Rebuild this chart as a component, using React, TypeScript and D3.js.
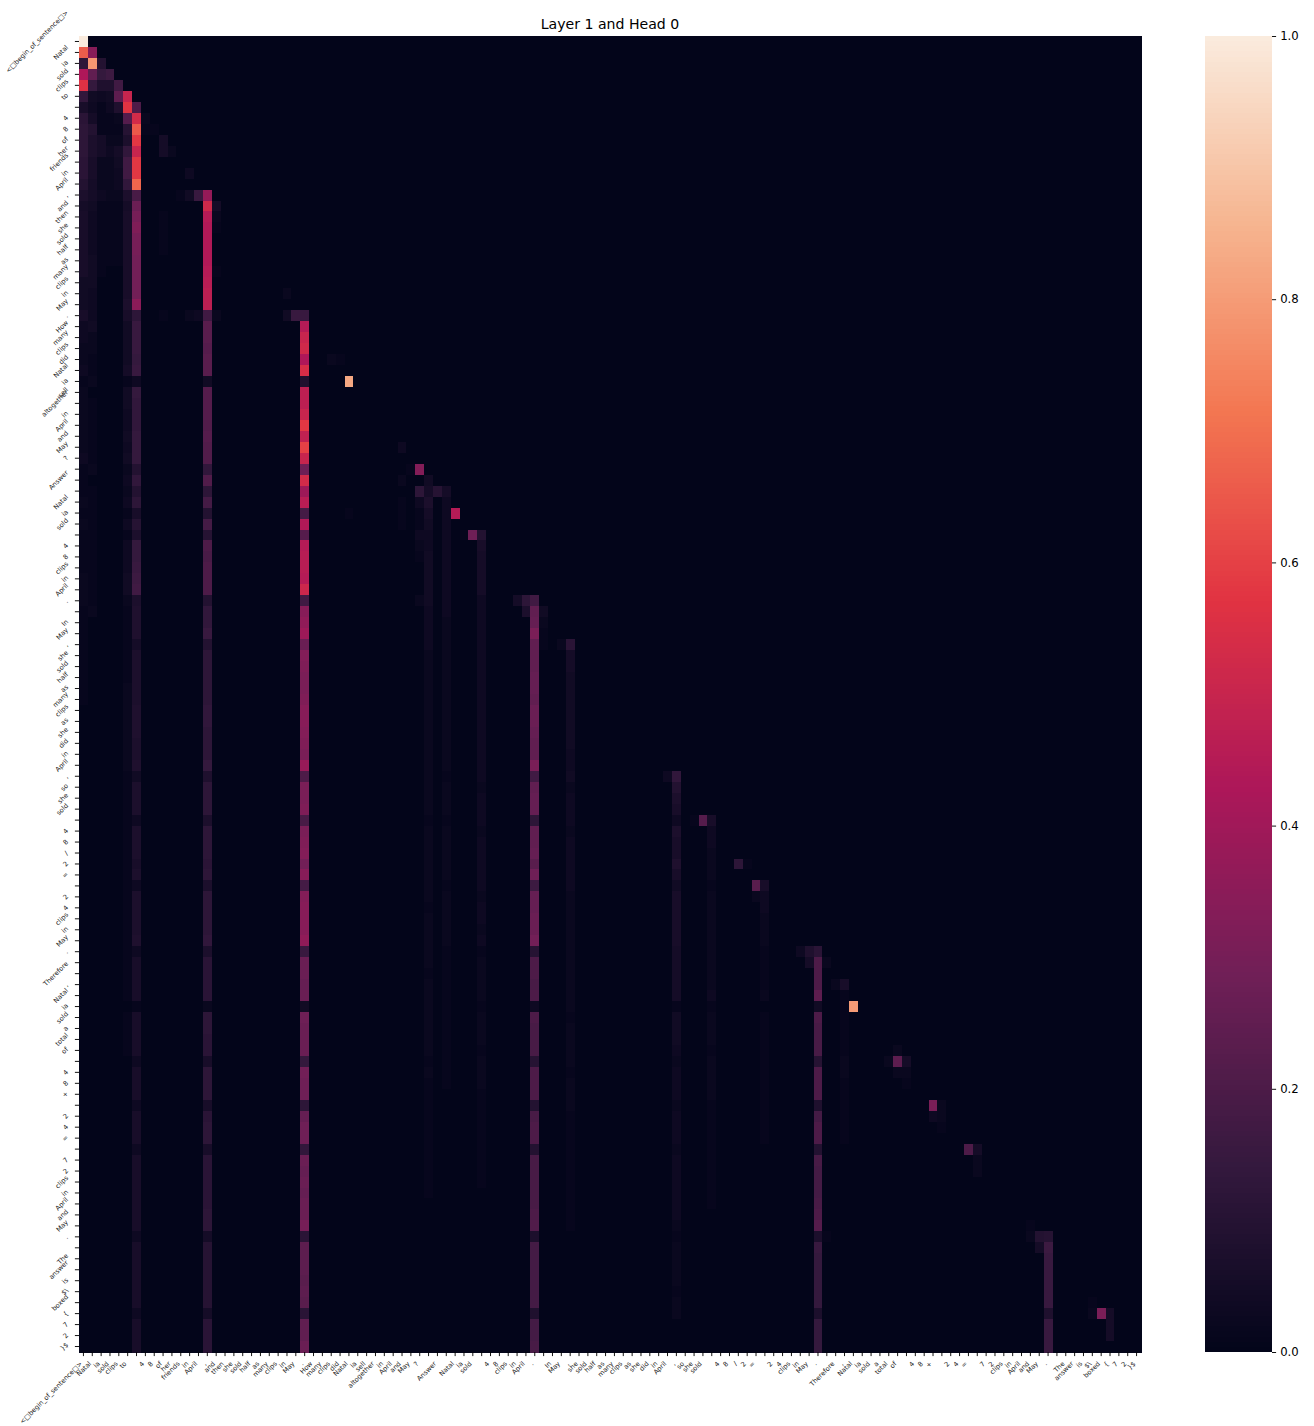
import React, { useEffect, useRef } from 'react'
import * as d3 from 'd3'

const bos = '<□begin_of_sentence□>'
const tokens = [
  bos, 'Natal', 'ia', 'sold', 'clips', 'to', ' ', '4', '8', 'of', 'her', 'friends', 'in', 'April', ',',
  'and', 'then', 'she', 'sold', 'half', 'as', 'many', 'clips', 'in', 'May', '.',
  'How', 'many', 'clips', 'did', 'Natal', 'ia', 'sell', 'altogether', 'in', 'April', 'and', 'May', '?', ' ',
  'Answer', ' ', 'Natal', 'ia', 'sold', ' ', '4', '8', 'clips', 'in', 'April', '.', ' ',
  'In', 'May', ',', 'she', 'sold', 'half', 'as', 'many', 'clips', 'as', 'she', 'did', 'in', 'April', ',',
  'so', 'she', 'sold', ' ', '4', '8', '/', '2', '=', ' ', '2', '4', 'clips', 'in', 'May', '.', ' ',
  'Therefore', ',', 'Natal', 'ia', 'sold', 'a', 'total', 'of', ' ', '4', '8', '+', ' ', '2', '4', '=', ' ',
  '7', '2', 'clips', 'in', 'April', 'and', 'May', '.', ' ',
  'The', 'answer', 'is', '$\\', 'boxed', '{', '7', '2', '}$',
]

const bar0 = [100, 66, 12, 43, 56, 13, 6, 11, 12, 12, 12, 11, 11, 9, 7, 5, 6, 6, 6, 6, 6, 6, 4, 4, 4, 6, 3, 3, 2, 2, 3, 1, 2, 2, 2, 2, 2, 2, 3, 1, 1, 1, 2, 1, 2, 1, 1, 1, 1, 2, 2, 2, 1, 1, 1, 1, 1, 1, 1, 1, 1]
const bar1 = [34, 79, 25, 14, 4, 3, 5, 9, 7, 7, 6, 6, 5, 5, 4, 3, 3, 3, 3, 4, 4, 4, 3, 3, 3, 4, 2, 2, 1, 1, 2, 0, 1, 1, 1, 1, 1, 1, 2, 0, 1, 1, 1, 1, 1, 1, 1, 1, 1, 1, 1, 2]
const bar2 = [9, 14, 8, 3, 1, 1, 1, 5, 5, 2, 2, 2, 3, 1, 1, 1, 1, 1, 1, 1]
const bar3 = [16, 8, 4, 3, 1, 1, 2, 3, 2, 2, 2, 2, 1, 1, 1, 1, 1, 1]
const bar4 = [17, 24, 8, 2, 1, 2, 5, 4, 3, 3, 2, 1, 1, 1, 1, 1, 1]
const bar5 = [50, 57, 22, 10, 7, 13, 17, 17, 13, 7, 5, 6, 6, 6, 6, 6, 6, 6, 6, 7, 6, 4, 4, 4, 4, 5, 1, 4, 4, 3, 3, 4, 3, 4, 2, 3, 2, 3, 1, 3, 1, 3, 3, 3, 4, 4, 2, 1, 1, 1, 1, 1, 1, 1, 2, 2, 2, 2, 2, 2, 2, 2, 1, 1, 1, 1, 1, 1, 1, 1, 1, 1, 1, 1, 1, 1, 1, 1, 1, 1, 1, 1, 1, 0, 1, 1, 1, 1]
const bar6 = [20, 53, 65, 58, 50, 58, 58, 68, 19, 27, 30, 32, 30, 30, 29, 29, 29, 29, 35, 12, 15, 15, 15, 14, 15, 3, 14, 13, 13, 13, 14, 14, 14, 9, 13, 9, 12, 6, 10, 7, 14, 14, 15, 16, 17, 7, 8, 8, 8, 5, 7, 7, 7, 7, 7, 8, 8, 8, 7, 7, 8, 4, 7, 7, 7, 3, 7, 7, 7, 6, 7, 3, 7, 7, 7, 7, 8, 3, 6, 6, 6, 6, 1, 6, 6, 6, 6, 3, 6, 6, 6, 3, 6, 6, 6, 3, 6, 6, 6, 6, 6, 6, 6, 3, 6, 6, 6, 6, 6, 6, 3, 6, 6, 6]
const bar14 = [37, 52, 45, 44, 44, 44, 44, 45, 46, 47, 47, 17, 23, 23, 22, 23, 23, 4, 22, 22, 22, 21, 22, 21, 21, 13, 21, 12, 18, 9, 18, 10, 20, 19, 20, 20, 20, 9, 13, 13, 15, 9, 12, 12, 12, 12, 12, 13, 13, 12, 12, 12, 14, 8, 12, 12, 12, 7, 12, 12, 12, 11, 12, 7, 12, 12, 12, 12, 13, 7, 11, 11, 11, 11, 2, 12, 12, 11, 11, 6, 12, 12, 12, 6, 11, 12, 12, 6, 11, 11, 11, 11, 11, 12, 12, 5, 10, 10, 10, 10, 10, 10, 5, 11, 11, 11]
const bar25 = [15, 45, 50, 52, 43, 54, 8, 47, 47, 50, 58, 48, 60, 50, 28, 53, 39, 46, 18, 44, 22, 45, 46, 46, 45, 51, 17, 34, 36, 39, 27, 33, 32, 31, 31, 32, 34, 34, 33, 32, 31, 38, 20, 31, 31, 32, 19, 31, 32, 33, 29, 34, 18, 33, 34, 34, 34, 36, 15, 27, 27, 26, 27, 4, 28, 27, 27, 27, 14, 29, 28, 28, 12, 26, 28, 28, 13, 27, 26, 27, 26, 27, 27, 30, 11, 24, 24, 24, 23, 24, 23, 11, 25, 25, 27]
const bar39 = [4, 5, 7, 5, 4, 3, 3, 4, 4, 4, 4, 4, 3, 3, 3, 3, 2, 2, 2, 2, 2, 2, 2, 2, 2, 2, 2, 2, 2, 2, 2, 1, 2, 2, 2, 2, 2, 2, 2, 1, 2, 2, 2, 2, 2, 1, 2, 2, 2, 2, 2, 2, 2, 1, 2, 1, 1, 1, 1, 1, 1, 1, 1, 1, 1, 1]
const bar41 = [5, 3, 3, 3, 3, 3, 3, 3, 3, 3, 3, 3, 2, 2, 2, 2, 2, 2, 2, 2, 2, 2, 2, 2, 2, 2, 1, 2, 2, 2, 1, 2, 2, 2, 2, 2, 1, 2, 2, 2, 2, 2, 1, 1, 1, 1, 1, 1, 1, 1, 1, 1, 1, 1, 1]
const bar45 = [9, 6, 5, 5, 5, 5, 3, 3, 3, 3, 3, 3, 3, 3, 3, 3, 3, 3, 3, 3, 3, 3, 3, 2, 3, 3, 3, 2, 3, 3, 3, 3, 3, 2, 3, 3, 2, 3, 1, 2, 2, 2, 2, 1, 2, 2, 2, 1, 2, 2, 2, 1, 1, 1, 1, 1, 1, 1, 1, 1]
const bar55 = [11, 5, 5, 4, 4, 4, 4, 4, 4, 4, 3, 3, 4, 2, 3, 3, 3, 2, 3, 3, 3, 3, 3, 2, 2, 2, 2, 2, 2, 2, 2, 2, 2, 2, 1, 2, 2, 2, 2, 1, 2, 2, 2, 1, 1, 1, 1, 1, 1, 1, 1, 1, 1, 1]
const bar51 = [17, 25, 26, 31, 25, 25, 25, 26, 26, 25, 27, 27, 26, 25, 25, 31, 17, 25, 26, 26, 12, 25, 25, 26, 23, 28, 16, 26, 26, 27, 27, 29, 10, 20, 20, 19, 20, 3, 20, 19, 19, 19, 10, 20, 20, 20, 9, 19, 20, 20, 9, 19, 19, 19, 19, 19, 20, 21, 7, 18, 18, 18, 18, 18, 18, 8, 18, 18, 19]
const bar67 = [13, 9, 7, 6, 3, 7, 6, 6, 8, 6, 4, 6, 6, 6, 6, 6, 5, 5, 5, 5, 5, 1, 4, 4, 4, 3, 2, 3, 3, 3, 2, 3, 3, 3, 2, 3, 3, 3, 3, 3, 3, 2, 1, 2, 2, 2, 2, 1, 2, 2]
const bar71 = [6, 3, 3, 2, 2, 2, 1, 2, 2, 2, 2, 2, 2, 2, 2, 2, 3, 1, 2, 2, 2, 1, 2, 2, 2, 2, 1, 1, 1, 1, 1, 1, 1, 1, 1, 1]
const bar77 = [6, 3, 3, 2, 2, 2, 1, 1, 1, 1, 2, 0, 1, 1, 1, 1, 1, 1, 1, 1, 1, 1, 1, 1]
const bar83 = [11, 20, 20, 20, 24, 4, 20, 19, 19, 19, 10, 20, 20, 20, 8, 18, 20, 20, 9, 19, 18, 18, 18, 19, 20, 22, 7, 15, 14, 14, 14, 14, 14, 7, 14, 14, 14]
const bar86 = [6, 1, 1, 1, 1, 1, 1, 2, 2, 1, 1, 1, 1, 1, 1]
const bar109 = [10, 16, 15, 15, 15, 15, 15, 8, 15, 15, 15]

// [column, first row, values]
const barColumns: [number, number, number[]][] = [
  [0, 0, bar0], [1, 1, bar1], [2, 2, bar2], [3, 3, bar3], [4, 4, bar4], [5, 5, bar5], [6, 6, bar6],
  [14, 14, bar14], [25, 25, bar25], [39, 40, bar39], [41, 41, bar41], [45, 45, bar45], [55, 55, bar55],
  [51, 51, bar51], [67, 67, bar67], [71, 71, bar71], [77, 77, bar77], [83, 83, bar83], [86, 86, bar86],
  [109, 109, bar109],
]

// isolated cells: [row, column, value]
const spots: [number, number, number][] = [
  [5, 3, 4], [7, 7, 2], [8, 7, 1], [8, 8, 1], [9, 9, 5], [10, 9, 5], [10, 10, 2], [12, 12, 3],
  [14, 11, 1], [14, 12, 4], [14, 13, 15], [15, 15, 5], [16, 15, 2], [16, 9, 1], [17, 15, 1], [17, 9, 1],
  [18, 9, 1], [19, 9, 1], [21, 15, 1], [23, 23, 2],
  [25, 9, 1], [25, 12, 2], [25, 13, 3], [25, 15, 2], [25, 23, 4], [25, 24, 15],
  [29, 28, 2], [29, 29, 1], [31, 30, 83], [37, 36, 3], [39, 37, 1], [39, 38, 33],
  [40, 36, 2], [41, 38, 12], [41, 40, 10], [42, 36, 1], [42, 38, 3], [43, 36, 1], [43, 38, 1], [43, 30, 1],
  [43, 42, 45], [44, 38, 1], [44, 36, 1], [45, 38, 3], [45, 43, 1], [45, 44, 28], [46, 38, 2], [47, 38, 1],
  [51, 38, 2], [51, 49, 5], [51, 50, 12], [52, 50, 7], [52, 52, 4], [53, 52, 2], [54, 52, 1], [55, 52, 1],
  [55, 54, 2], [67, 66, 3], [71, 69, 1], [71, 70, 22], [75, 74, 12], [75, 75, 1], [77, 76, 23], [78, 76, 2],
  [83, 81, 3], [83, 82, 8], [84, 82, 5], [84, 84, 2], [86, 85, 2], [88, 87, 80],
  [92, 92, 2], [93, 91, 2], [93, 92, 24], [93, 93, 5], [94, 92, 2], [94, 93, 2], [95, 93, 1],
  [97, 96, 31], [97, 97, 2], [98, 96, 3], [98, 97, 2], [99, 97, 1], [101, 100, 20], [101, 101, 5],
  [102, 101, 2], [103, 101, 2], [108, 107, 1], [109, 84, 1], [109, 107, 2], [109, 108, 9], [110, 108, 5],
  [115, 114, 1], [116, 114, 2], [116, 115, 31], [116, 116, 5], [117, 116, 5], [118, 116, 5],
]

const colorTicks = [0, 0.2, 0.4, 0.6, 0.8, 1]
const rocketStops = ['#03051a', '#35193e', '#701f57', '#ad1759', '#e13342', '#f37651', '#f6b48f', '#faebdd']
const title = 'Layer 1 and Head 0'

const App: React.FC = () => {
  const svgRef = useRef<SVGSVGElement>(null)

  useEffect(() => {
    if (!svgRef.current) return
    const width = 1314
    const height = 1426
    const left = 79
    const right = 1141
    const top = 36
    const bottom = 1352
    const tickLen = 4.1
    const pad = 4.1
    const labelSize = 6.6
    const indices = tokens.map((_, i) => i)

    const matrix = indices.map(() => indices.map(() => 0))
    barColumns.forEach(([col, first, values]) => {
      values.forEach((v, i) => {
        if (first + i < tokens.length) matrix[first + i][col] = v / 100
      })
    })
    spots.forEach(([row, col, v]) => {
      matrix[row][col] = v / 100
    })

    const xScale = d3.scaleBand<number>().domain(indices).range([left, right])
    const yScale = d3.scaleBand<number>().domain(indices).range([top, bottom])
    const color = d3
      .scaleLinear<string>()
      .domain(rocketStops.map((_, i) => i / (rocketStops.length - 1)))
      .range(rocketStops)
      .interpolate(d3.interpolateRgb)

    const svg = d3.select(svgRef.current)
    svg.selectAll('*').remove()
    svg.attr('width', width).attr('height', height)
    svg.append('rect').attr('width', width).attr('height', height).attr('fill', '#fff')

    const cells = matrix.flatMap((row, r) => row.map((value, c) => ({ r, c, value })))
    svg
      .append('g')
      .attr('shape-rendering', 'crispEdges')
      .selectAll('rect')
      .data(cells)
      .enter()
      .append('rect')
      .attr('x', (d) => xScale(d.c) || 0)
      .attr('y', (d) => yScale(d.r) || 0)
      .attr('width', xScale.bandwidth() + 0.5)
      .attr('height', yScale.bandwidth() + 0.5)
      .attr('fill', (d) => color(d.value))

    const font = '"DejaVu Sans"'

    // ticks
    svg
      .append('g')
      .selectAll('line')
      .data(indices)
      .enter()
      .append('line')
      .attr('x1', (d) => (xScale(d) || 0) + xScale.bandwidth() / 2)
      .attr('x2', (d) => (xScale(d) || 0) + xScale.bandwidth() / 2)
      .attr('y1', bottom)
      .attr('y2', bottom + tickLen)
      .attr('stroke', '#000')
      .attr('stroke-width', 0.93)
    svg
      .append('g')
      .selectAll('line')
      .data(indices)
      .enter()
      .append('line')
      .attr('y1', (d) => (yScale(d) || 0) + yScale.bandwidth() / 2)
      .attr('y2', (d) => (yScale(d) || 0) + yScale.bandwidth() / 2)
      .attr('x1', left)
      .attr('x2', left - tickLen)
      .attr('stroke', '#000')
      .attr('stroke-width', 0.93)

    // rotated labels: the rotated box is aligned like matplotlib does it
    const boxSize = (node: SVGTextElement) => (node.getComputedTextLength() + labelSize) / Math.SQRT2
    svg
      .append('g')
      .selectAll('text')
      .data(indices)
      .enter()
      .append('text')
      .text((d) => tokens[d])
      .attr('font-family', font)
      .attr('font-size', labelSize)
      .attr('fill', '#222')
      .attr('text-anchor', 'middle')
      .attr('dy', '0.35em')
      .each(function (d) {
        const b = boxSize(this as SVGTextElement)
        const cx = (xScale(d) || 0) + xScale.bandwidth() / 2 - b / 2
        const cy = bottom + tickLen + pad + b / 2
        d3.select(this).attr('transform', `translate(${cx},${cy}) rotate(-45)`)
      })
    svg
      .append('g')
      .selectAll('text')
      .data(indices)
      .enter()
      .append('text')
      .text((d) => tokens[d])
      .attr('font-family', font)
      .attr('font-size', labelSize)
      .attr('fill', '#222')
      .attr('text-anchor', 'middle')
      .attr('dy', '0.35em')
      .each(function (d) {
        const b = boxSize(this as SVGTextElement)
        const cx = left - tickLen - pad - 1.5 - b / 2
        const cy = (yScale(d) || 0) + yScale.bandwidth() / 2
        d3.select(this).attr('transform', `translate(${cx},${cy}) rotate(-45)`)
      })

    svg
      .append('text')
      .attr('x', (left + right) / 2)
      .attr('y', 28.5)
      .attr('text-anchor', 'middle')
      .attr('font-family', font)
      .attr('font-size', 14.1)
      .text(title)

    // colorbar
    const barLeft = 1205
    const barRight = 1272
    const barScale = d3.scaleLinear().domain([0, 1]).range([bottom, top])
    const steps = d3.range(256)
    const stepScale = d3.scaleBand<number>().domain(steps).range([bottom, top])
    svg
      .append('g')
      .attr('shape-rendering', 'crispEdges')
      .selectAll('rect')
      .data(steps)
      .enter()
      .append('rect')
      .attr('x', barLeft)
      .attr('width', barRight - barLeft)
      .attr('y', (d) => stepScale(d) || 0)
      .attr('height', stepScale.bandwidth())
      .attr('fill', (d) => color(d / 255))

    const axis = d3
      .axisRight(barScale)
      .tickValues(colorTicks)
      .tickFormat(d3.format('.1f'))
      .tickSize(tickLen)
      .tickPadding(pad)
    const axisG = svg.append('g').attr('transform', `translate(${barRight},0)`).call(axis)
    axisG.select('.domain').remove()
    axisG.selectAll('line').attr('stroke', '#000').attr('stroke-width', 0.93)
    axisG.selectAll('text').attr('font-family', font).attr('font-size', 11.7).attr('fill', '#000')
  }, [])

  return <svg ref={svgRef} style={{ position: 'absolute', left: 0, top: 0, display: 'block', opacity: 0.999 }} />
}

export default App
